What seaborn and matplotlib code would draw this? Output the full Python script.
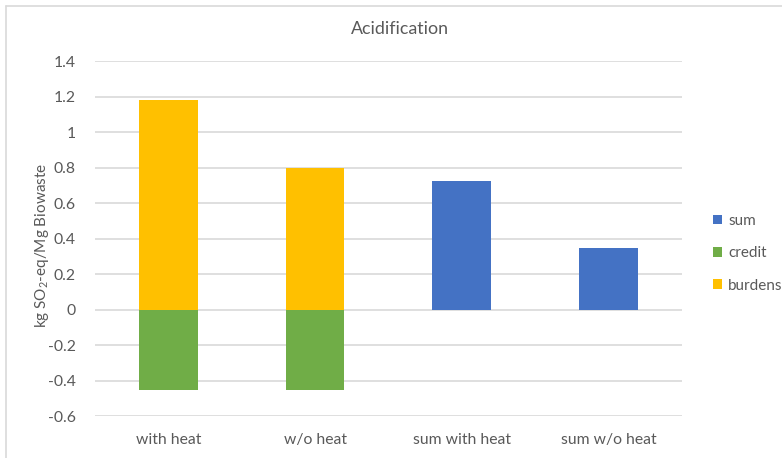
import matplotlib
matplotlib.use("Agg")
import matplotlib.pyplot as plt
from matplotlib.lines import Line2D
from matplotlib.patches import Patch
import seaborn as sns
import pandas as pd

categories = ["with heat", "w/o heat", "sum with heat", "sum w/o heat"]
burdens = [1.18, 0.80, 0.0, 0.0]
credit = [-0.455, -0.455, 0.0, 0.0]
sums = [0.0, 0.0, 0.725, 0.345]
y_ticks = [-0.6, -0.4, -0.2, 0, 0.2, 0.4, 0.6, 0.8, 1, 1.2, 1.4]

colors = {"sum": "#4472C4", "credit": "#70AD47", "burdens": "#FFC000"}
text_color = "#595959"
grid_color = "#D9D9D9"

sns.set_theme(style="white")
plt.rcParams["font.family"] = ["Lato", "DejaVu Sans"]
plt.rcParams["mathtext.fontset"] = "custom"
plt.rcParams["mathtext.rm"] = "Lato"
plt.rcParams["mathtext.it"] = "Lato:italic"

df = pd.DataFrame({"category": categories, "burdens": burdens,
                   "credit": credit, "sum": sums})

fig = plt.figure(figsize=(7.82, 4.58), dpi=100)
ax = fig.add_axes([0.1217, 0.0917, 0.7502, 0.7751])

for series in ["burdens", "credit", "sum"]:
    sns.barplot(data=df, x="category", y=series, order=categories,
                color=colors[series], width=0.4, linewidth=0,
                saturation=1, ax=ax, zorder=3)

ax.set_ylim(-0.6, 1.4)
ax.set_yticks(y_ticks)
ax.set_yticklabels([f"{t:g}" for t in y_ticks])
ax.yaxis.grid(True, color=grid_color, linewidth=1.2, zorder=0)
ax.set_axisbelow(True)
for s in ax.spines.values():
    s.set_visible(False)
ax.tick_params(axis="both", length=0, colors=text_color, labelsize=11.3)
ax.tick_params(axis="y", pad=14)
ax.tick_params(axis="x", pad=12)
ax.set_xlabel("")
ax.set_ylabel("kg SO$_2$-eq/Mg Biowaste", color=text_color, fontsize=11)
ax.yaxis.set_label_coords(-0.076, 0.48)

fig.text(400 / 782, 1 - 29 / 458, "Acidification", ha="center", va="center",
         color=text_color, fontsize=12.8)

handles = [Patch(facecolor=colors[k], edgecolor="none") for k in ["sum", "credit", "burdens"]]
leg = fig.legend(handles, ["sum", "credit", "burdens"], loc="center left",
                 bbox_to_anchor=(0.894, 0.447), frameon=False, fontsize=11,
                 handlelength=0.6, handleheight=0.6, handletextpad=0.4,
                 labelspacing=1.2, labelcolor=text_color)

# outer frame of the chart area (top and left edges)
fig.add_artist(Line2D([6 / 782, 1], [1 - 6 / 458, 1 - 6 / 458],
                      color=grid_color, linewidth=1.2, transform=fig.transFigure))
fig.add_artist(Line2D([6 / 782, 6 / 782], [0, 1 - 6 / 458],
                      color=grid_color, linewidth=1.2, transform=fig.transFigure))

fig.savefig("out.png", dpi=100)
